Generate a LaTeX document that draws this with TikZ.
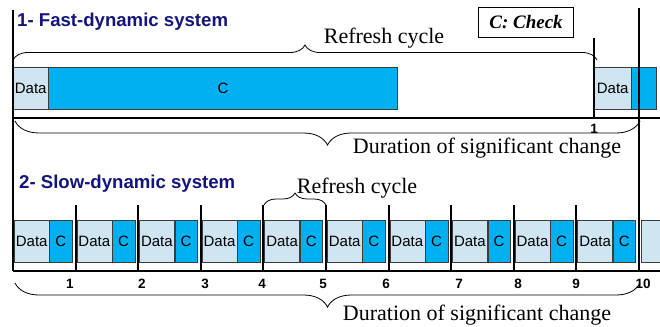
\documentclass[tikz,border=0pt]{standalone}
\usepackage{fontspec}
\setmainfont{Liberation Serif}
\setsansfont{Liberation Sans}
\usetikzlibrary{positioning}
\usetikzlibrary{decorations.pathreplacing}
\definecolor{mnavy}{RGB}{20, 20, 125}
\definecolor{mlight}{RGB}{207, 229, 242}
\definecolor{mcyan}{RGB}{0, 176, 240}
\definecolor{medge}{RGB}{60, 60, 60}
\tikzset{databox/.style = {draw = medge, fill = mlight, inner sep = 0, minimum width = 35, minimum height = 42, font = \sffamily\fontsize{15}{15}\selectfont}}
\tikzset{checkbox/.style = {draw = medge, fill = mcyan, inner sep = 0, minimum width = 22.5, minimum height = 42, font = \sffamily\fontsize{15}{15}\selectfont}}
\tikzset{title/.style = {anchor = west, inner sep = 0, text = mnavy, font = \sffamily\bfseries\fontsize{18.6}{18.6}\selectfont}}
\tikzset{note/.style = {inner sep = 0, font = \rmfamily\fontsize{22}{22}\selectfont}}
\tikzset{ticklabel/.style = {inner sep = 0, font = \sffamily\bfseries\fontsize{13.5}{13.5}\selectfont}}
\tikzset{axis/.style = {line width = 2.4pt}}
\tikzset{tick/.style = {line width = 2pt}}
\tikzset{curly/.style = {decorate, decoration = {brace, amplitude = #1}, line width = 0.8pt}}

\begin{document}
\begin{tikzpicture}[x = 1pt, y = -1pt]

       \useasboundingbox (0, 0) rectangle (660, 326);

       % fast-dynamic system
       \node [title] (fasttitle) at (17, 22) {1- Fast-dynamic system};
       \node [draw, line width = 0.8pt, minimum width = 95, minimum height = 30, inner sep = 0,
              font = \rmfamily\bfseries\itshape\fontsize{19}{19}\selectfont] (key) at (526, 22) {C: Check};

       \node [databox, anchor = north west] (fdata1) at (13, 67) {Data};
       \node [checkbox, right = 0 of fdata1, minimum width = 349, minimum height = 42] (fcheck1) {C};
       \node [databox, anchor = north west, minimum width = 37] (fdata2) at (594, 67) {Data};
       \node [checkbox, right = 0 of fdata2, minimum width = 25] (fcheck2) {};

       \draw [axis] (13, 118) -- (660, 118);
       \draw [tick] (594, 38) -- (594, 118);
       \node [ticklabel] (fone) at (594, 129) {1};

       \coordinate (frefa) at (13, 60);
       \coordinate (frefb) at (597, 60);
       \draw [curly = 15] (frefa) -- (frefb);
       \node [note] (frefresh) at (384, 38) {Refresh cycle};

       \coordinate (fdura) at (640, 121);
       \coordinate (fdurb) at (15, 121);
       \draw [curly = 24] (fdura) -- (fdurb);
       \node [note] (fduration) at (487, 148) {Duration of significant change};

       % slow-dynamic system
       \node [title] (slowtitle) at (19, 184) {2- Slow-dynamic system};

       \foreach \k in {0,...,9} {
         \node [databox, anchor = north west] (sdata\k) at ({14 + 62.6*\k}, 220) {Data};
         \node [checkbox, right = 0 of sdata\k] (scheck\k) {C};
       }
       \node [databox, anchor = north west] (sdata10) at (641, 220) {};

       \foreach \k in {1,...,9}
         \draw [tick] ({13 + 62.6*\k}, 205) -- ({13 + 62.6*\k}, 271);

       \foreach \n/\x in {1/70, 2/142, 3/205, 4/262, 5/323, 6/386, 7/459, 8/518, 9/576, 10/643}
         \node [ticklabel] (slab\n) at (\x, 284) {\n};

       \coordinate (srefa) at (264, 205);
       \coordinate (srefb) at (326, 205);
       \draw [curly = 12] (srefa) -- (srefb);
       \node [note] (srefresh) at (357, 188) {Refresh cycle};

       \coordinate (sdura) at (640, 283);
       \coordinate (sdurb) at (15, 283);
       \draw [curly = 24] (sdura) -- (sdurb);
       \node [note] (sduration) at (477, 315) {Duration of significant change};

       % time axes
       \draw [axis] (13, 10) -- (13, 271);
       \draw [axis] (13, 271) -- (660, 271);
       \draw [axis] (639, 8) -- (639, 271);
    \end{tikzpicture}
\end{document}
